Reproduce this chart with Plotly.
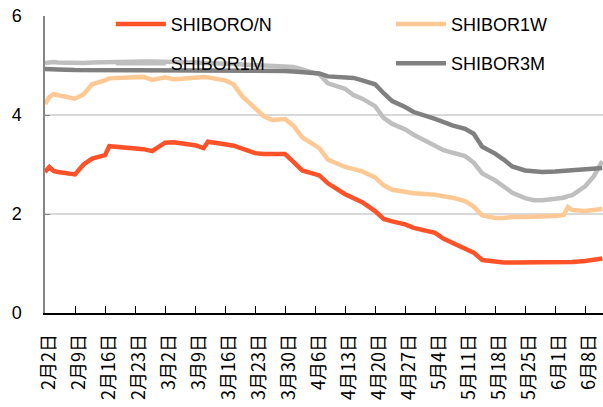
import plotly.graph_objects as go
import pandas as pd

dates = ["2015-02-02","2015-02-03","2015-02-04","2015-02-05","2015-02-09","2015-02-11","2015-02-13",
         "2015-02-16","2015-02-17","2015-02-25","2015-02-27","2015-03-02","2015-03-04","2015-03-06",
         "2015-03-09","2015-03-11","2015-03-12","2015-03-16","2015-03-18","2015-03-20","2015-03-23",
         "2015-03-25","2015-03-27","2015-03-30","2015-04-01","2015-04-03","2015-04-07","2015-04-09",
         "2015-04-13","2015-04-15","2015-04-17","2015-04-20","2015-04-22","2015-04-24","2015-04-27",
         "2015-04-29","2015-05-04","2015-05-06","2015-05-08","2015-05-11","2015-05-13","2015-05-15",
         "2015-05-18","2015-05-20","2015-05-22","2015-05-25","2015-05-27","2015-05-29","2015-06-01",
         "2015-06-03","2015-06-04","2015-06-05","2015-06-08","2015-06-10","2015-06-12"]

shibor_on = [2.85,2.95,2.87,2.85,2.80,3.00,3.12,3.19,3.37,3.31,3.27,3.44,3.45,3.42,3.39,3.33,3.46,
             3.41,3.38,3.32,3.23,3.21,3.21,3.21,3.05,2.88,2.78,2.62,2.40,2.31,2.24,2.06,1.90,1.85,
             1.79,1.72,1.62,1.50,1.42,1.31,1.22,1.07,1.03,1.02,1.02,1.02,1.02,1.02,1.01,1.02,1.03,
             1.03,1.05,1.07,1.10]
shibor_1w = [4.22,4.36,4.42,4.40,4.33,4.42,4.62,4.70,4.74,4.77,4.71,4.76,4.72,4.73,4.76,4.77,4.76,
             4.70,4.62,4.38,4.14,3.98,3.90,3.92,3.78,3.55,3.33,3.10,2.95,2.90,2.86,2.74,2.58,2.49,
             2.44,2.42,2.39,2.36,2.33,2.26,2.15,1.97,1.92,1.92,1.94,1.94,1.94,1.95,1.96,1.98,2.14,
             2.08,2.06,2.08,2.10]
shibor_1m = [5.05,5.07,5.07,5.06,5.04,5.05,5.06,5.07,5.07,5.08,5.08,5.08,5.08,5.07,5.06,5.05,5.05,
             5.04,5.03,5.02,5.01,5.01,5.00,4.99,4.97,4.92,4.82,4.64,4.53,4.40,4.33,4.18,3.94,3.82,
             3.71,3.60,3.38,3.29,3.24,3.17,3.04,2.82,2.68,2.55,2.43,2.32,2.28,2.28,2.30,2.33,2.36,
             2.38,2.56,2.76,3.07]
shibor_3m = [4.93,4.92,4.92,4.92,4.91,4.91,4.91,4.91,4.91,4.91,4.91,4.91,4.91,4.91,4.91,4.91,4.91,
             4.90,4.90,4.90,4.90,4.90,4.90,4.89,4.88,4.87,4.84,4.78,4.77,4.75,4.70,4.62,4.44,4.28,
             4.16,4.06,3.92,3.85,3.79,3.72,3.62,3.36,3.22,3.10,2.96,2.88,2.86,2.85,2.86,2.87,2.88,
             2.88,2.90,2.92,2.93]

series_names = ["SHIBORO/N", "SHIBOR1W", "SHIBOR1M", "SHIBOR3M"]
series_colors = ["#FF5229", "#FFC995", "#BFBFBF", "#808080"]

tick_vals = pd.date_range("2015-02-02", "2015-06-08", freq="7D")
tick_text = [f"{d.month}月{d.day}日" for d in tick_vals]

fig = go.Figure()
values = [shibor_on, shibor_1w, shibor_1m, shibor_3m]
legend_ids = ["legend", "legend2", "legend3", "legend4"]
for name, vals, col, lg in zip(series_names, values, series_colors, legend_ids):
    fig.add_trace(go.Scatter(x=dates, y=vals, mode="lines", name=name, showlegend=True,
                             line=dict(color=col, width=4.5), legend=lg))

font_main = "Liberation Sans, Arial, Noto Sans CJK SC"
leg_common = dict(font=dict(family=font_main, size=18, color="#000000"),
                  bgcolor="rgba(0,0,0,0)", itemwidth=50, xanchor="left", yanchor="middle")

fig.update_layout(
    width=603, height=407,
    margin=dict(l=45, r=0, t=16, b=94, autoexpand=False),
    showlegend=True,
    paper_bgcolor="white", plot_bgcolor="white",
    font=dict(family=font_main, size=18, color="#000000"),
    legend=dict(x=0.118, y=0.972, **leg_common),
    legend2=dict(x=0.620, y=0.972, **leg_common),
    legend3=dict(x=0.118, y=0.840, **leg_common),
    legend4=dict(x=0.620, y=0.840, **leg_common),
    xaxis=dict(
        type="date", automargin=False,
        range=["2015-02-02", "2015-06-12 04:00"],
        tickvals=list(tick_vals), ticktext=tick_text,
        tickangle=-90,
        ticks="inside", ticklen=7, tickcolor="#000000", tickwidth=1.2,
        showline=True, linecolor="#000000", linewidth=1.5,
        showgrid=False, zeroline=False,
        tickfont=dict(family="Noto Sans CJK SC, Liberation Sans", size=18, color="#000000"),
        ticklabelstandoff=12, ticklabelshift=4,
    ),
    yaxis=dict(
        range=[0, 6], tickvals=[0, 2, 4, 6], automargin=False,
        ticks="inside", ticklen=5, tickcolor="#868686",
        showline=True, linecolor="#868686", linewidth=1.5,
        showgrid=True, gridcolor="#D9D9D9", gridwidth=1.5,
        zeroline=False,
        tickfont=dict(family=font_main, size=18, color="#000000"),
        ticklabelstandoff=18,
    ),
)

fig.write_html("out.html", config={"displayModeBar": False},
               post_script="document.body.style.margin='0';")
